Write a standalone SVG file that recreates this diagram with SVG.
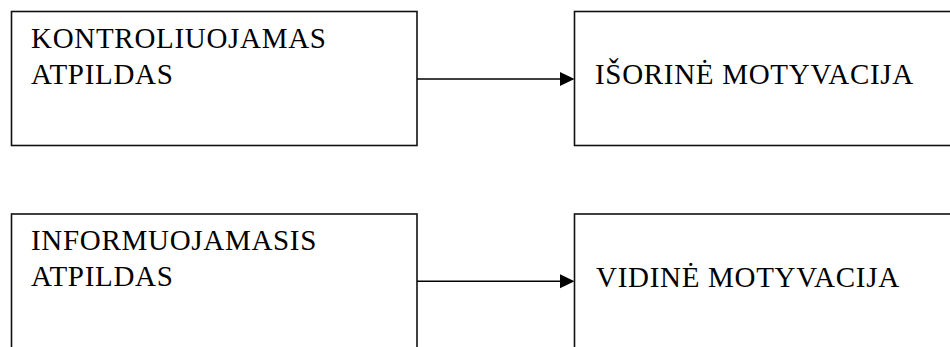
<svg xmlns="http://www.w3.org/2000/svg" width="950" height="347" viewBox="0 0 950 347">
  <style>
    .box { fill: #fff; stroke: #111; stroke-width: 1.6; }
    .lbl { font-size: 29px; letter-spacing: 0.7px; fill: #000; }
    .edge { stroke: #000; stroke-width: 1.6; fill: none; }
    .head { fill: #000; }
  </style>
  <rect width="950" height="347" fill="#fff"/>

  <g font-family="'Liberation Serif', 'Times New Roman', Times, serif">
    <g id="kontroliuojamas">
      <rect class="box" x="11.5" y="11.5" width="405.5" height="134"/>
      <text class="lbl" x="31" y="47.5">KONTROLIUOJAMAS</text>
      <text class="lbl" x="31" y="83.5">ATPILDAS</text>
    </g>

    <g id="isorine">
      <rect class="box" x="574.5" y="11.5" width="390" height="134"/>
      <text class="lbl" x="595" y="84">IŠORINĖ MOTYVACIJA</text>
    </g>

    <g id="informuojamasis">
      <rect class="box" x="11.5" y="214" width="405.5" height="150"/>
      <text class="lbl" x="31" y="250">INFORMUOJAMASIS</text>
      <text class="lbl" x="31" y="286">ATPILDAS</text>
    </g>

    <g id="vidine">
      <rect class="box" x="574.5" y="214" width="390" height="150"/>
      <text class="lbl" x="596" y="286.5">VIDINĖ MOTYVACIJA</text>
    </g>
  </g>

  <g id="connectors">
    <line class="edge" x1="417" y1="79" x2="562" y2="79"/>
    <polygon class="head" points="560,72 574.5,79 560,86"/>
    <line class="edge" x1="417" y1="281.3" x2="562" y2="281.3"/>
    <polygon class="head" points="560,274.3 574.5,281.3 560,288.3"/>
  </g>
</svg>
